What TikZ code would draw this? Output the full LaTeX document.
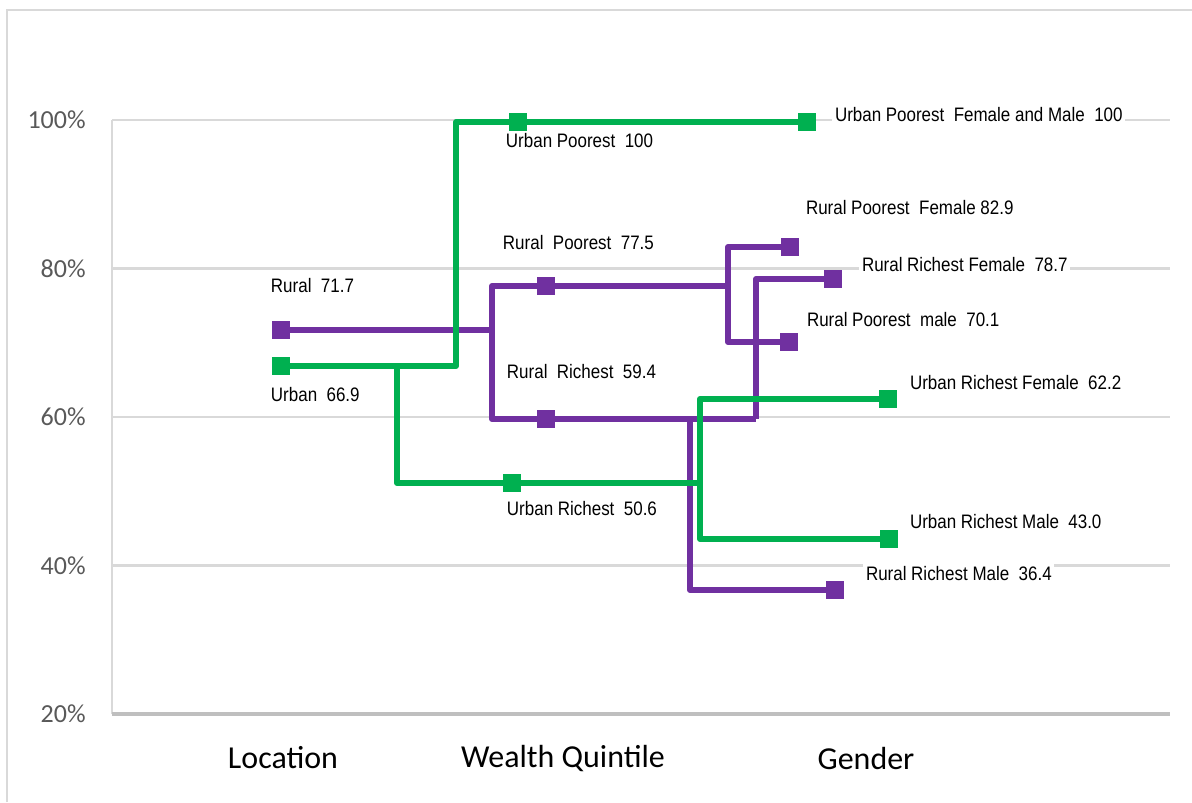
\documentclass[tikz,border=0pt]{standalone}
\usepackage{fontspec}
\newfontfamily\calfont{Carlito}
\newfontfamily\lblfont[FakeStretch=0.87]{Liberation Sans}
\definecolor{ruralpurple}{RGB}{112, 48, 160}
\definecolor{urbangreen}{RGB}{0, 176, 80}
\definecolor{gridgray}{RGB}{217, 217, 217}
\definecolor{axisgray}{RGB}{191, 191, 191}
\definecolor{ticktext}{RGB}{89, 89, 89}
\usetikzlibrary{positioning}

\tikzset{
  gridline/.style={draw=gridgray, line width=1.2pt},
  rline/.style={draw=ruralpurple, line width=3.4pt, line join=round},
  uline/.style={draw=urbangreen, line width=3.4pt, line join=round},
  rmark/.style={fill=ruralpurple, minimum size=0.36cm, inner sep=0pt},
  umark/.style={fill=urbangreen, minimum size=0.36cm, inner sep=0pt},
  vallabel/.style={anchor=west, fill=white, inner sep=1.5pt, font=\lblfont\fontsize{11.1}{13}\selectfont},
  ticklabel/.style={anchor=east, text=ticktext, inner sep=0pt, font=\calfont\fontsize{14.8}{17}\selectfont},
  catlabel/.style={inner sep=0pt, font=\calfont\fontsize{18.2}{21}\selectfont}
}

\begin{document}
\begin{tikzpicture}[x=0.02cm, y=-0.02cm]
  \useasboundingbox (0,0) rectangle (1192,802);
  % frame
  \draw[gridline] (7,802) -- (7,10) -- (1192,10);

  % grid and axes
  \draw[gridline] (112,714) -- (112,120);
  \foreach \yy in {120, 268.5, 417, 565.5} {
    \draw[gridline] (112,\yy) -- (1170,\yy);
  }
  \draw[draw=axisgray, line width=1.8pt] (112,714) -- (1170,714);
  \node[ticklabel] (t100) at (86,120) {100\%};
  \node[ticklabel] (t80) at (86,268.5) {80\%};
  \node[ticklabel] (t60) at (86,417) {60\%};
  \node[ticklabel] (t40) at (86,565.5) {40\%};
  \node[ticklabel] (t20) at (86,714) {20\%};

  % categories
  \node[catlabel] (location) at (283,758) {Location};
  \node[catlabel] (wealth) at (563,758) {Wealth Quintile};
  \node[catlabel] (gender) at (866,758) {Gender};

  % value labels
  \node[vallabel] (lrural) at (268,286) {Rural~ 71.7};
  \node[vallabel] (lurban) at (268,395) {Urban~ 66.9};
  \node[vallabel] (lupoor) at (503,141) {Urban Poorest~ 100};
  \node[vallabel] (lupfm) at (832,115) {Urban Poorest~ Female and Male~ 100};
  \node[vallabel] (lrpoor) at (500,243) {Rural~ Poorest~ 77.5};
  \node[vallabel] (lrrich) at (504,372) {Rural~ Richest~ 59.4};
  \node[vallabel] (lurich) at (504,509) {Urban Richest~ 50.6};
  \node[vallabel] (lrpf) at (803,208) {Rural Poorest~ Female 82.9};
  \node[vallabel] (lrrf) at (859,265) {Rural Richest Female~ 78.7};
  \node[vallabel] (lrpm) at (804,320) {Rural Poorest~ male~ 70.1};
  \node[vallabel] (lurf) at (907,383) {Urban Richest Female~ 62.2};
  \node[vallabel] (lurm) at (907,522) {Urban Richest Male~ 43.0};
  \node[vallabel] (lrrm) at (863,574) {Rural Richest Male~ 36.4};

  % markers
  \node[rmark] (rural) at (281,330) {};
  \node[umark] (urban) at (281,366) {};
  \node[umark] (upoor) at (518,122) {};
  \node[umark] (upfm) at (807,122) {};
  \node[rmark] (rpoor) at (546,286) {};
  \node[rmark] (rrich) at (546,419) {};
  \node[umark] (urich) at (512,483) {};
  \node[rmark] (rpf) at (790,247) {};
  \node[rmark] (rrf) at (833,279) {};
  \node[rmark] (rpm) at (789,342) {};
  \node[umark] (urf) at (888,399) {};
  \node[umark] (urm) at (889,539) {};
  \node[rmark] (rrm) at (835,590) {};

  % branch points
  \coordinate (rloc) at (492,330);
  \coordinate (rpj) at (728,286);
  \coordinate (rrj) at (756,419);
  \coordinate (rrk) at (690,419);
  \coordinate (uloc) at (456,366);
  \coordinate (uloc2) at (397,366);
  \coordinate (urj) at (700,483);

  % rural tree
  \draw[rline] (rural.center) -- (rloc);
  \draw[rline] (rpoor.center) -| (rloc) |- (rrich.center) -- (rrj);
  \draw[rline] (rpoor.center) -- (rpj);
  \draw[rline] (rpf.center) -| (rpj) |- (rpm.center);
  \draw[rline] (rrj) |- (rrf.center);
  \draw[rline] (rrk) |- (rrm.center);

  % urban tree
  \draw[uline] (urban.center) -- (uloc) |- (upoor.center) -- (upfm.center);
  \draw[uline] (uloc2) |- (urich.center) -- (urj);
  \draw[uline] (urf.center) -| (urj) |- (urm.center);

  % markers on top
  \foreach \m in {rural, rpoor, rrich, rpf, rrf, rpm, rrm} {
    \fill[ruralpurple] (\m.south west) rectangle (\m.north east);
  }
  \foreach \m in {urban, upoor, upfm, urich, urf, urm} {
    \fill[urbangreen] (\m.south west) rectangle (\m.north east);
  }
\end{tikzpicture}
\end{document}
